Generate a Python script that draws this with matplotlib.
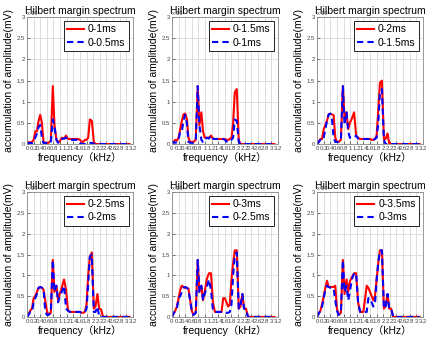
import numpy as np
import matplotlib
matplotlib.use('Agg')
import matplotlib.pyplot as plt

plt.rcParams['font.family'] = ['Liberation Sans', 'Noto Sans CJK SC', 'DejaVu Sans']

# 频率 (kHz)
freq = [0, 0.05, 0.1, 0.15, 0.2, 0.25, 0.3, 0.35, 0.4, 0.45,
        0.5, 0.55, 0.6, 0.65, 0.72, 0.78, 0.83, 0.89, 0.94, 0.99,
        1.05, 1.12, 1.18, 1.24, 1.3, 1.4, 1.5, 1.55, 1.6, 1.65,
        1.7, 1.75, 1.8, 1.85, 1.9, 1.96, 2.02, 2.07, 2.13, 2.18,
        2.24, 2.3, 2.5, 2.7, 2.9, 3.1]

# 累计幅值
s05 = [0, 0.02, 0.03, 0.02, 0.05, 0.15, 0.25, 0.4, 0.45, 0.15,
       0.02, 0.03, 0.02, 0.02, 0.03, 0.58, 0.4, 0.1, 0.03, 0.05,
       0.12, 0.13, 0.15, 0.12, 0.1, 0.1, 0.1, 0.1, 0.03, 0,
       0, 0, 0, 0, 0.02, 0.03, 0, 0, 0, 0,
       0, 0, 0, 0, 0, 0]
s10 = [0, 0.05, 0.03, 0.05, 0.1, 0.3, 0.3, 0.55, 0.69, 0.5,
       0.05, 0.03, 0.03, 0.03, 0.08, 1.37, 0.45, 0.1, 0.05, 0.06,
       0.15, 0.13, 0.2, 0.12, 0.12, 0.12, 0.12, 0.12, 0.1, 0.06,
       0.05, 0.1, 0.1, 0.15, 0.58, 0.55, 0.05, 0, 0, 0,
       0, 0, 0, 0, 0, 0]
s15 = [0, 0.05, 0.1, 0.08, 0.15, 0.35, 0.55, 0.7, 0.72, 0.6,
       0.15, 0.05, 0.05, 0.05, 0.1, 1.37, 0.45, 0.75, 0.3, 0.15,
       0.15, 0.15, 0.2, 0.13, 0.12, 0.12, 0.12, 0.12, 0.12, 0.1,
       0.1, 0.12, 0.15, 0.5, 1.22, 1.3, 0.1, 0, 0, 0,
       0, 0, 0, 0, 0, 0]
s20 = [0, 0.05, 0.12, 0.12, 0.35, 0.45, 0.55, 0.7, 0.72, 0.7,
       0.68, 0.15, 0.05, 0.05, 0.1, 1.37, 0.6, 0.75, 0.35, 0.5,
       0.6, 0.75, 0.2, 0.15, 0.12, 0.12, 0.12, 0.12, 0.12, 0.1,
       0.1, 0.12, 0.2, 0.8, 1.45, 1.5, 0.12, 0.12, 0.25, 0.02,
       0, 0, 0, 0, 0, 0]
s25 = [0, 0.08, 0.15, 0.2, 0.45, 0.5, 0.6, 0.7, 0.72, 0.7,
       0.65, 0.4, 0.15, 0.05, 0.1, 1.37, 0.6, 0.75, 0.4, 0.55,
       0.7, 0.9, 0.65, 0.15, 0.12, 0.12, 0.12, 0.12, 0.12, 0.1,
       0.1, 0.12, 0.3, 1.0, 1.45, 1.55, 0.2, 0.25, 0.55, 0.2,
       0.18, 0, 0, 0, 0, 0]
s30 = [0, 0.08, 0.15, 0.25, 0.45, 0.65, 0.75, 0.72, 0.7, 0.7,
       0.68, 0.4, 0.15, 0.05, 0.1, 1.37, 0.6, 0.75, 0.4, 0.6,
       0.9, 1.05, 1.05, 0.35, 0.12, 0.12, 0.12, 0.45, 0.45, 0.35,
       0.25, 0.3, 0.9, 1.3, 1.6, 1.6, 0.2, 0.25, 0.55, 0.2,
       0.2, 0, 0, 0, 0, 0]
s35 = [0, 0.08, 0.15, 0.3, 0.5, 0.7, 0.87, 0.72, 0.72, 0.72,
       0.72, 0.75, 0.2, 0.05, 0.1, 1.37, 0.55, 0.9, 0.6, 0.85,
       0.95, 1.05, 1.05, 0.35, 0.12, 0.12, 0.75, 0.7, 0.6, 0.5,
       0.4, 0.5, 0.9, 1.3, 1.6, 1.6, 0.2, 0.25, 0.55, 0.2,
       0.2, 0, 0, 0, 0, 0]

pairs = [(s10, s05, '0-1ms', '0-0.5ms'),
         (s15, s10, '0-1.5ms', '0-1ms'),
         (s20, s15, '0-2ms', '0-1.5ms'),
         (s25, s20, '0-2.5ms', '0-2ms'),
         (s30, s25, '0-3ms', '0-2.5ms'),
         (s35, s30, '0-3.5ms', '0-3ms')]

xticks = np.round(np.arange(0, 3.21, 0.2), 1)
xlabs = ['%g' % v for v in xticks]

fig = plt.figure(figsize=(4.32, 3.43), dpi=100)
lefts = [0.0625, 0.398, 0.734]
bottoms = [0.58, 0.076]
heights = [0.370, 0.364]

for i, (r, b, lr, lb) in enumerate(pairs):
    row, col = i // 3, i % 3
    ax = fig.add_axes([lefts[col], bottoms[row], 0.245, heights[row]])
    ax.plot(freq, r, color='#ff0000', lw=1.5, label=lr)
    ax.plot(freq, b, color='#0000ff', lw=1.5, ls=(0, (3, 2)), label=lb)
    ax.set_xlim(0, 3.2)
    ax.set_ylim(0, 3)
    ax.set_xticks(xticks)
    ax.set_xticklabels(xlabs)
    ax.set_yticks([0, 0.5, 1, 1.5, 2, 2.5, 3])
    ax.set_yticklabels(['0', '0.5', '1', '1.5', '2', '2.5', '3'])
    ax.tick_params(direction='in', length=2, width=0.5, labelsize=4.3,
                   pad=1.5, colors='#444444')
    ax.grid(True, color='#d8d8d8', lw=0.6)
    for sp in ax.spines.values():
        sp.set_color('#888888')
        sp.set_linewidth(0.6)
    ax.text(0.0, 1.015, 'x 10', transform=ax.transAxes, fontsize=4,
            color='#444444', zorder=1)
    ax.set_title('Hilbert margin spectrum', fontsize=7.5, pad=2.5)
    ax.set_xlabel('frequency（kHz）', fontsize=7.5, labelpad=1)
    ax.set_ylabel('accumulation of amplitude(mV)', fontsize=7.5, labelpad=2)
    leg = ax.legend(loc='upper right', fontsize=7.5, handlelength=1.6,
                    borderpad=0.3, labelspacing=0.3, handletextpad=0.4,
                    borderaxespad=0.4, fancybox=False, framealpha=1)
    leg.get_frame().set_edgecolor('black')
    leg.get_frame().set_linewidth(0.6)

plt.savefig('out.png', dpi=100)
